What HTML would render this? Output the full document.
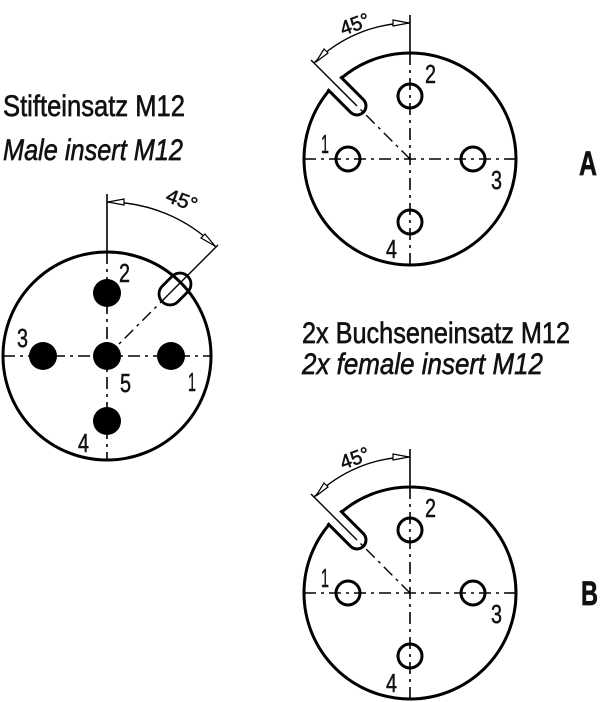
<!DOCTYPE html>
<html><head><meta charset="utf-8"><style>
html,body{margin:0;padding:0;background:#fff}
svg{display:block}
text{font-family:"Liberation Sans",sans-serif;fill:#111;stroke:#111;stroke-width:0.5}
</style></head><body>
<svg width="600" height="702" viewBox="0 0 600 702" xmlns="http://www.w3.org/2000/svg">
<defs>
<clipPath id="ca"><circle cx="410" cy="159" r="108"/></clipPath>
</defs>
<text x="3" y="116" font-size="30" textLength="182" lengthAdjust="spacingAndGlyphs" transform="translate(0 -116) scale(1 2) translate(0 0)" style="display:none">x</text>
<g transform="translate(3 116) scale(1 1.25)"><text x="0" y="0" font-size="24" textLength="182" lengthAdjust="spacingAndGlyphs">Stifteinsatz M12</text></g>
<g transform="translate(3 160) scale(1 1.25)"><text x="0" y="0" font-size="24" font-style="italic" textLength="180" lengthAdjust="spacingAndGlyphs">Male insert M12</text></g>
<g transform="translate(302 343) scale(1 1.25)"><text x="0" y="0" font-size="24" textLength="268" lengthAdjust="spacingAndGlyphs">2x Buchseneinsatz M12</text></g>
<g transform="translate(302 374) scale(1 1.25)"><text x="0" y="0" font-size="24" font-style="italic" textLength="241" lengthAdjust="spacingAndGlyphs">2x female insert M12</text></g>
<g transform="translate(579 175) scale(1 1.3)"><text x="0" y="0" font-size="26" font-weight="bold" textLength="18" lengthAdjust="spacingAndGlyphs">A</text></g>
<g transform="translate(581 605) scale(1 1.3)"><text x="0" y="0" font-size="26" font-weight="bold" textLength="17" lengthAdjust="spacingAndGlyphs">B</text></g>

<!-- Male connector -->
<g stroke="#000" fill="none">
<circle cx="107" cy="356" r="104" stroke-width="3"/>
<line x1="3" y1="356" x2="211" y2="356" stroke-width="1.6" stroke-dasharray="12,5,3,5"/>
<line x1="107" y1="252" x2="107" y2="460" stroke-width="1.6" stroke-dasharray="12,5,3,5"/>
<line x1="107" y1="194" x2="107" y2="253" stroke-width="1.6"/>
<line x1="107" y1="356" x2="168" y2="295" stroke-width="1.4" stroke-dasharray="12,5,3,5"/>
<line x1="168" y1="295" x2="218" y2="245" stroke-width="1.4"/>
<path d="M107 202 A154 154 0 0 1 216 247" stroke-width="1.4"/>
<g transform="rotate(-45 175 289)"><rect x="157" y="278" width="36" height="22" rx="11" stroke-width="2.8"/></g>
</g>
<polygon points="108,202 124,199 124,205" fill="#fff" stroke="#000" stroke-width="1.2"/>
<polygon points="215,246 201,238 205,234" fill="#fff" stroke="#000" stroke-width="1.2"/>
<g fill="#000">
<circle cx="107" cy="293" r="14"/><circle cx="43" cy="356" r="14"/><circle cx="107" cy="356" r="14"/><circle cx="171" cy="356" r="14"/><circle cx="107" cy="421" r="14"/>
</g>
<g transform="rotate(20 182 200)"><text x="166" y="207" font-size="20" textLength="32" lengthAdjust="spacingAndGlyphs">45°</text></g>
<g font-size="26">
<text x="119" y="282" textLength="11" lengthAdjust="spacingAndGlyphs">2</text>
<text x="17" y="347" textLength="11" lengthAdjust="spacingAndGlyphs">3</text>
<text x="120" y="392" textLength="11" lengthAdjust="spacingAndGlyphs">5</text>
<text x="188" y="391" textLength="8" lengthAdjust="spacingAndGlyphs">1</text>
<text x="78" y="452" textLength="11" lengthAdjust="spacingAndGlyphs">4</text>
</g>

<!-- Female A and B -->
<g id="fa">
<g stroke="#000" fill="none">
<circle cx="410" cy="159" r="106" stroke-width="3"/>
<g clip-path="url(#ca)"><g transform="rotate(-135 410 159)"><rect x="476" y="150" width="62" height="18" rx="9" fill="#fff" stroke-width="3"/></g></g>
<line x1="304" y1="159" x2="516" y2="159" stroke-width="1.6" stroke-dasharray="12,5,3,5"/>
<line x1="410" y1="53" x2="410" y2="265" stroke-width="1.6" stroke-dasharray="12,5,3,5"/>
<line x1="410" y1="15" x2="410" y2="54" stroke-width="1.6"/>
<line x1="410" y1="159" x2="357" y2="106" stroke-width="1.4" stroke-dasharray="12,5,3,5"/>
<line x1="357" y1="106" x2="311" y2="60" stroke-width="1.4"/>
<path d="M410 23 A136 136 0 0 0 314 63" stroke-width="1.4"/>
<circle cx="410" cy="96" r="12" stroke-width="3"/>
<circle cx="348" cy="159" r="12" stroke-width="3"/>
<circle cx="473" cy="159" r="12" stroke-width="3"/>
<circle cx="410" cy="222" r="12" stroke-width="3"/>
</g>
<polygon points="409,23 393,20 393,26" fill="#fff" stroke="#000" stroke-width="1.2"/>
<polygon points="316,62 324,49 328,53" fill="#fff" stroke="#000" stroke-width="1.2"/>
<g transform="rotate(-20 354 22)"><text x="339" y="31" font-size="20" textLength="30" lengthAdjust="spacingAndGlyphs">45°</text></g>
<g font-size="26">
<text x="425" y="83" textLength="11" lengthAdjust="spacingAndGlyphs">2</text>
<text x="321" y="153" textLength="8" lengthAdjust="spacingAndGlyphs">1</text>
<text x="491" y="189" textLength="11" lengthAdjust="spacingAndGlyphs">3</text>
<text x="386" y="258" textLength="11" lengthAdjust="spacingAndGlyphs">4</text>
</g>
</g>
<use href="#fa" transform="translate(0 434)"/>
</svg>
</body></html>
